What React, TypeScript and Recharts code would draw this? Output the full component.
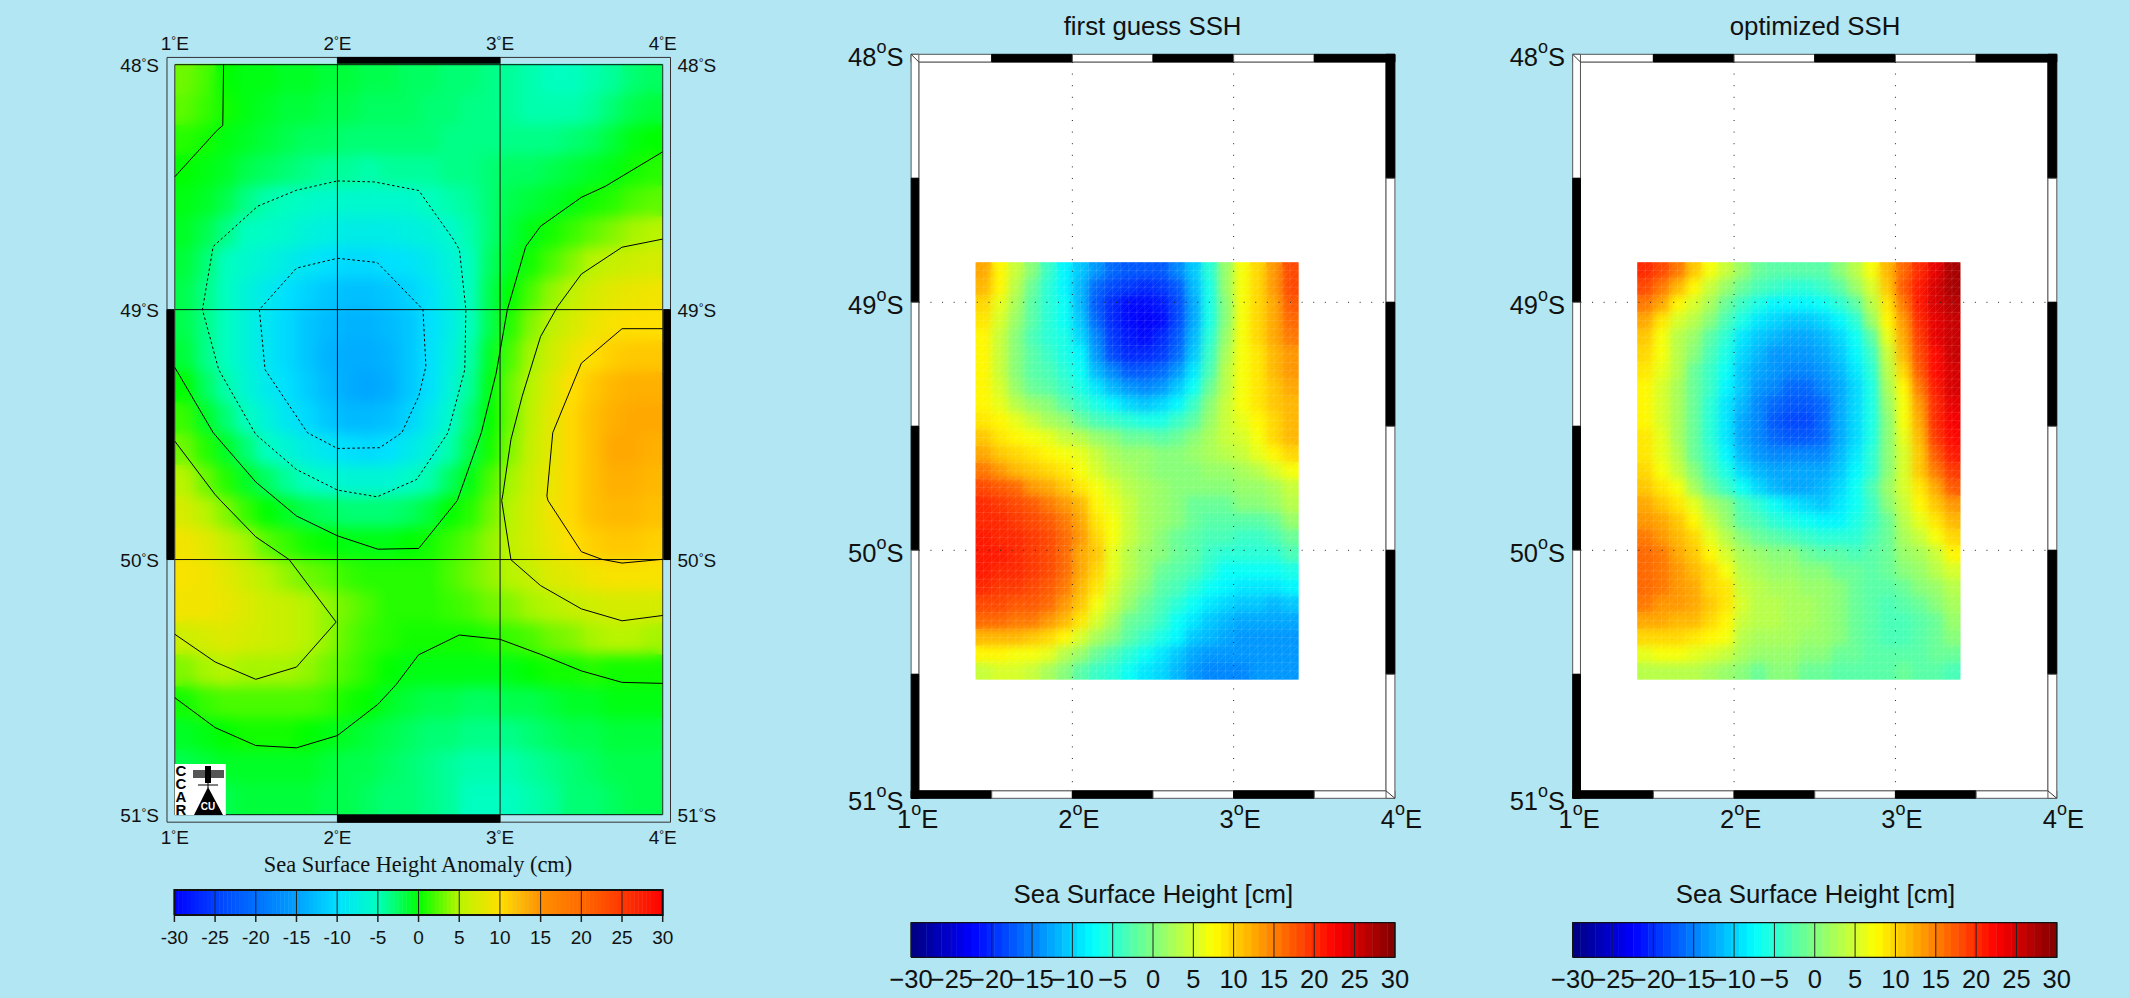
import React from 'react';
import { ScatterChart, Scatter, XAxis, YAxis, ReferenceArea } from 'recharts';

const PAGE_W = 2129, PAGE_H = 998;
const BG = '#B2E6F2';
const SANS = '"Liberation Sans", Arial, sans-serif';
const SERIF = '"Liberation Serif", "Times New Roman", serif';

// ---------- left map (Mercator GMT plot) ----------
const leftLons = [1.0625,1.1875,1.3125,1.4375,1.5625,1.6875,1.8125,1.9375,2.0625,2.1875,2.3125,2.4375,2.5625,2.6875,2.8125,2.9375,3.0625,3.1875,3.3125,3.4375,3.5625,3.6875,3.8125,3.9375];
const leftLats = [48.0625,48.1875,48.3125,48.4375,48.5625,48.6875,48.8125,48.9375,49.0625,49.1875,49.3125,49.4375,49.5625,49.6875,49.8125,49.9375,50.0625,50.1875,50.3125,50.4375,50.5625,50.6875,50.8125,50.9375];
const leftField = [
[3,2,0,-0.5,-0.5,-1,-1,-1.5,-1.5,-2,-2,-2.5,-2.5,-3,-3,-3.5,-4,-4.5,-5,-5,-4.5,-4,-3,-2.5],
[2.5,1.5,0.5,-0.5,-1,-1.5,-1.5,-2,-2,-2.5,-2.5,-2.5,-3,-3,-3.5,-3.5,-4,-4.5,-4.5,-4.5,-4,-3,-2,-1.5],
[1,0.5,-0.5,-1,-1.5,-2,-2.5,-2.5,-3,-3,-3,-3,-3,-3.5,-3.5,-3.5,-3.5,-3.5,-3.5,-3,-2.5,-1.5,-0.5,0],
[0,-0.5,-1,-2,-2.5,-3,-3.5,-4,-4,-4.5,-4,-4,-4,-3.5,-3.5,-3,-2.5,-2.5,-2,-1.5,-1,-0.5,0.5,1],
[-0.5,-1,-2,-3.5,-4.5,-5,-5.5,-6,-6,-6,-6,-6,-5,-4.5,-4,-3,-2,-1.5,-1,-0.5,0.5,1,2,2.5],
[-1,-2,-3.5,-5,-5.5,-6,-7,-7.5,-8,-8,-8,-7.5,-7,-6,-4.5,-3,-1.5,-0.5,0.5,1.5,2.5,3.5,4.5,5],
[-1.5,-3,-5,-6,-7,-8,-9,-10,-10.5,-10.5,-10,-9.5,-8.5,-7,-5,-2.5,-1,0.5,2,3.5,5,6,6.5,7],
[-2,-3.5,-5,-7,-8.5,-10,-11,-12,-12.5,-12.5,-12,-11,-9.5,-7.5,-5,-2,0,2,4,5.5,7,8,8.5,9],
[-2,-3.5,-5,-7,-9,-10.5,-12,-13,-13.5,-13.5,-13,-12,-10,-8,-5,-2,1,3.5,5.5,7,8.5,9.5,10,10],
[-1.5,-3.5,-5,-7,-9,-10.5,-12,-13.5,-14,-14,-13.5,-12,-10,-7.5,-4.5,-1,2,4.5,6.5,8.5,10,11,11.5,11.5],
[0,-2.5,-4.5,-6.5,-8.5,-10,-11.5,-13,-14,-14.5,-14,-12,-10,-7,-4,-0.5,3,5,7.5,10,11.5,12.5,13,13],
[1.5,-1,-3,-5,-7,-9,-10.5,-12,-13,-13,-12.5,-11,-8.5,-6,-3,0,3,5.5,8,10.5,12,13,13.5,13.5],
[3,1,-1,-3,-5,-6.5,-8,-9,-10,-10.5,-10,-8.5,-7,-4.5,-2,0.5,3.5,6,8,10.5,12,13.5,13.5,13],
[5,3,1,-1,-2.5,-4,-5,-6,-6.5,-6.5,-6.5,-5.5,-4.5,-2.5,-0.5,2,4.5,6.5,8.5,10.5,12,13,13,12.5],
[7,5,3.5,1.5,0,-1,-2,-2.5,-3,-3,-3,-2.5,-1.5,0,1,3,5,7,9,10.5,12,12.5,12.5,12],
[9,8,6,4.5,2.5,1.5,0.5,0,-0.5,-0.5,-0.5,0,0.5,1.5,2.5,4,5.5,7,8.5,10,11,11.5,11.5,11],
[9.5,9,8,6.5,5,4,3,2.5,1.5,1,1,1,1,2,3,4,5,6,7.5,8,9,9.5,9.5,9.5],
[9,9,8.5,7.5,6.5,6,5,4,3,2,1,1,1,1.5,2,3,3.5,4.5,5,6,6.5,7,7,7],
[6.5,7,7.5,7,6.5,6,5,4,2.5,1.5,1,0.5,0.5,0.5,0.5,1,1.5,2,3,3.5,4.5,5,5,4.5],
[3.5,4.5,5,4.5,4.5,4.5,4,3,2,1,0,-0.5,-0.5,-0.5,-0.5,-0.5,-0.5,0,0.5,0.5,1,0.5,0.5,0.5],
[0.5,1.5,2,2,2,2,2,1.5,0.5,0,-1,-1.5,-2,-2,-2.5,-2.5,-2,-2,-1.5,-1,-1,-0.5,-0.5,-0.5],
[-1,-0.5,0,0.5,0.5,0.5,0,-0.5,-1,-1.5,-2,-2.5,-3,-3,-3.5,-3.5,-3.5,-3,-2.5,-2,-2,-1.5,-1.5,-1.5],
[-2,-1.5,-1,-1,-1,-1,-1,-1.5,-2,-2,-2.5,-3,-3.5,-4,-4.5,-4.5,-4.5,-4,-3.5,-3,-2.5,-2,-2,-2],
[-2.5,-2,-2,-1.5,-1.5,-1.5,-1.5,-2,-2,-2.5,-3,-3,-3.5,-4,-5,-5,-5,-4.5,-4,-3,-3,-2.5,-2,-2],
];

// contour lines: [lon, lat]
const contourCorner = [[1.30,48.0],[1.295,48.25],[1.26,48.27],[1.0,48.46]];
const contourMinus5 = [[2.0,48.477],[2.226,48.481],[2.5,48.516],[2.715,48.717],[2.75,48.757],[2.79,49.0],[2.783,49.242],[2.68,49.495],[2.487,49.682],[2.244,49.751],[2.0,49.724],[1.748,49.642],[1.498,49.502],[1.27,49.242],[1.17,49.0],[1.236,48.744],[1.51,48.58],[1.748,48.515],[2.0,48.477]];
const contourMinus10 = [[2.0,48.792],[2.244,48.809],[2.51,48.989],[2.526,49.0],[2.544,49.229],[2.5,49.349],[2.396,49.495],[2.26,49.555],[2.0,49.558],[1.816,49.495],[1.555,49.242],[1.52,49.0],[1.748,48.832],[2.0,48.792]];
const contourZeroMid = [[1.0,49.233],[1.236,49.495],[1.498,49.692],[1.748,49.827],[2.0,49.906],[2.249,49.959],[2.5,49.956],[2.737,49.766],[2.885,49.495],[2.976,49.256],[3.045,49.0],[3.158,48.744],[3.249,48.662],[3.5,48.544],[3.647,48.499],[4.0,48.358]];
const contourFiveLeft = [[1.0,49.529],[1.248,49.742],[1.282,49.766],[1.498,49.91],[1.703,50.0],[1.992,50.247],[1.748,50.424],[1.498,50.472],[1.248,50.404],[1.0,50.295]];
const contourFiveRight = [[4.0,48.714],[3.75,48.747],[3.5,48.856],[3.352,48.989],[3.249,49.109],[3.136,49.349],[3.067,49.522],[3.017,49.742],[3.01,49.766],[3.067,50.001],[3.249,50.103],[3.5,50.195],[3.75,50.242],[4.0,50.221]];
const contourTen = [[4.0,49.077],[3.75,49.077],[3.5,49.216],[3.324,49.495],[3.288,49.748],[3.295,49.766],[3.5,49.969],[3.625,49.999],[3.75,50.014],[4.0,49.999]];
const contourZeroBottom = [[1.0,50.544],[1.248,50.661],[1.498,50.731],[1.748,50.74],[2.0,50.692],[2.249,50.57],[2.362,50.492],[2.499,50.376],[2.749,50.298],[3.0,50.315],[3.249,50.374],[3.5,50.439],[3.75,50.484],[4.0,50.488]];

// ---------- SSH panels ----------
const sshLons = [1.45,1.55,1.65,1.75,1.85,1.95,2.05,2.15,2.25,2.35,2.45,2.55,2.65,2.75,2.85,2.95,3.05,3.15,3.25,3.35];
const sshLats = [48.872,48.939,49.007,49.074,49.141,49.208,49.276,49.343,49.41,49.477,49.545,49.612,49.679,49.746,49.814,49.881,49.948,50.015,50.083,50.15,50.217,50.284,50.352,50.419,50.486];
const firstGuess = [
[13,8,4,0,-4,-8,-11,-14,-16,-17,-17,-17,-15,-11,-5,1,7,10,14,18],
[12,8,3,-1,-5,-8,-12,-16,-18,-19,-20,-19,-17,-12,-6,1,7,10,14,18],
[10,6,2,-2,-5,-7,-12,-17,-20,-22,-22,-21,-18,-13,-6,0,7,10,13,17],
[9,5,1,-2,-5,-7,-11,-16,-20,-22,-23,-22,-18,-13,-6,0,7,10,13,16],
[8,4,0,-3,-5,-6,-10,-15,-19,-21,-22,-20,-17,-12,-5,1,7,10,13,15],
[8,4,0,-2,-4,-6,-8,-14,-18,-20,-20,-19,-16,-11,-4,2,7,9,12,14],
[8,4,0,-2,-3,-5,-7,-12,-15,-17,-17,-16,-14,-9,-3,3,7,9,12,14],
[8,5,1,-1,-2,-4,-6,-9,-12,-14,-15,-14,-11,-7,-1,3,7,9,11,13],
[8,6,3,1,0,-2,-4,-6,-8,-10,-11,-10,-8,-4,0,4,7,9,11,12],
[9,8,6,4,2,1,-1,-3,-4,-5,-6,-6,-4,-2,1,4,6,8,10,12],
[11,9,8,7,6,4,3,1,0,-1,-1,-2,-1,0,2,4,5,7,10,12],
[13,11,10,9,8,7,6,4,2,1,1,0,0,1,2,3,4,6,8,10],
[15,14,12,11,10,9,7,5,3,2,1,0,0,0,1,1,2,3,5,7],
[18,17,16,14,13,11,9,7,5,3,2,1,0,0,0,0,1,1,2,4],
[20,19,18,17,15,14,12,8,6,4,2,1,0,-1,-1,-1,0,0,1,3],
[20,20,19,18,17,15,13,9,7,4,2,1,0,-1,-2,-2,-2,-2,-1,1],
[21,20,20,19,18,16,14,10,7,4,2,0,-1,-2,-3,-3,-4,-4,-3,-1],
[21,21,20,19,18,16,13,11,6,3,1,0,-1,-2,-4,-5,-5,-5,-5,-3],
[21,20,20,19,18,16,13,10,6,3,1,-1,-2,-3,-5,-7,-7,-7,-7,-6],
[20,19,19,18,17,15,12,9,5,2,0,-2,-3,-5,-7,-8,-9,-9,-9,-8],
[18,18,17,17,16,14,11,7,4,1,-1,-3,-5,-7,-9,-10,-11,-11,-12,-11],
[16,16,15,15,14,12,9,5,2,-1,-2,-4,-7,-9,-11,-12,-13,-13,-13,-13],
[12,12,12,11,10,8,5,2,0,-2,-4,-6,-8,-11,-12,-13,-14,-14,-13.5,-13.5],
[8,8,7,7,6,3,1,-1,-3,-5,-7,-9,-11,-13,-14,-14,-14,-14,-14,-14],
[4,5,5,4,2,0,-2,-4,-5,-7,-9,-10,-12,-14,-14.5,-15,-14.5,-14,-14,-14],
];
const optimized = [
[20,18,15,11,7,4,1,-1,-2,-2.5,-2.5,-2,0,3,7,12,16,20,24,28],
[18,15,12,8,4,1,-1,-3,-4,-5,-5,-4,-2,1,5,11,17,21,25,28],
[15,13,8,5,2,-1,-4,-6,-8,-8,-8,-7,-5,-2,3,9,15,21,25,27],
[13,9,5,3,0,-3,-6,-9,-10,-11,-11,-10,-8,-5,1,8,14,20,24,26],
[11,7,3,1,-2,-5,-9,-11,-12,-13,-13,-12,-10,-7,-2,6,13,19,24,26],
[10,7,3,0,-3,-6,-10,-12,-14,-14,-14,-13,-11,-8,-4,4,12,18,22,26],
[9,6,3,-1,-4,-7,-11,-13,-14,-15,-15,-14,-12,-9,-5,3,10,17,22,25],
[8,5,2,-1,-4,-8,-11,-14,-15,-16,-16,-15,-13,-10,-6,2,8,15,21,25],
[8,5,2,-1,-5,-9,-12,-15,-16,-17,-17,-16,-13,-10,-6,1,7,14,20,24],
[8,5,2,-1,-5,-9,-13,-15,-17,-18,-18,-16,-13,-10,-6,0,7,13,20,23],
[9,6,2,-1,-5,-9,-13,-15,-16,-17,-17,-16,-13,-10,-6,0,6,12,19,22],
[9,6,3,-1,-4,-8,-12,-14,-15,-15,-15,-15,-12,-9,-5,0,5,11,17,21],
[10,7,4,0,-3,-6,-10,-12,-13,-13,-13,-13,-11,-8,-5,0,5,11,15,19],
[11,9,7,2,-1,-4,-7,-10,-12,-13,-13,-12,-10,-7,-3,1,5,9,13,17],
[13,11,9,6,2,0,-3,-5,-7,-9,-10,-11,-9,-7,-4,0,4,8,11,14],
[14,13,11,8,4,1,-2,-3,-5,-6,-7,-8,-8,-6,-4,-1,3,6,9,12],
[15,14,12,10,6,3,0,-1,-2,-3,-4,-5,-5,-5,-3,-1,2,4,7,10],
[16,15,13,11,8,5,2,1,0,0,-1,-2,-2,-3,-2,-1,1,2,4,8],
[16,15,14,12,10,7,3,2,1,1,0,0,-1,-1,-2,-1,0,1,3,5],
[16,15,14,13,10,9,4,3,2,2,1,1,0,-1,-2,-2,-1,0,1,3],
[15,14,14,13,11,9,5,3,3,2,2,1,0,-1,-2,-3,-2,-1,0,2],
[13,13,12,12,10,8,4,3,3,2,2,1,0,-1,-2,-3,-3,-2,-1,1],
[10,10,10,9,8,7,3,2,2,2,1,1,0,-1,-2,-3,-3,-2,-1,0],
[6,7,7,6,5,4,2,1,1,1,0,0,-1,-1,-2,-2,-2,-2,-1,-1],
[3,3,3,3,2,1,0,-1,0,0,-1,-1,-2,-2,-2,-2,-1,-2,-2,-3],
];

// ---------- axes ----------
const lonTicks = [1, 2, 3, 4];
const latTicks = [48, 49, 50, 51];
const cbTicks = [-30, -25, -20, -15, -10, -5, 0, 5, 10, 15, 20, 25, 30];

// left colour table
const leftCptValues = [-30,-25,-20,-15,-10,-5,0,5,10,15,20,25,30];
const leftCptColors = [[0,0,255],[0,64,255],[0,112,255],[0,160,255],[0,224,255],[0,255,192],[0,255,0],[184,244,0],[255,224,0],[255,144,0],[255,106,0],[255,56,0],[255,0,0]];

const leftColor = (v: number) => {
  const t = Math.max(-30, Math.min(30, v));
  let i = 0;
  while (i < leftCptValues.length - 2 && t > leftCptValues[i + 1]) i++;
  const f = (t - leftCptValues[i]) / (leftCptValues[i + 1] - leftCptValues[i]);
  const a = leftCptColors[i], b = leftCptColors[i + 1];
  return `rgb(${a.map((c, k) => Math.round(c + (b[k] - c) * f)).join(',')})`;
};
const jet = (v: number) => {
  const lvl = Math.max(0, Math.min(63, Math.floor(((v + 30) / 60) * 64)));
  const g = (lvl + 0.5) / 64;
  const ch = (c: number) => Math.round(255 * Math.max(0, Math.min(1, 1.5 - Math.abs(4 * g - c))));
  return `rgb(${ch(3)},${ch(2)},${ch(1)})`;
};

const merc = (lat: number) => Math.log(Math.tan(Math.PI / 4 + (lat * Math.PI) / 360));

const gridTable = (lons: number[], lats: number[], rows: number[][], ty: (a: number) => number) =>
  lats.flatMap((la, r) => lons.map((lo, c) => ({ x: lo, y: ty(la), v: rows[r][c] })));
const lineTable = (pts: number[][], ty: (a: number) => number) => pts.map(([a, b]) => ({ x: a, y: ty(b) }));
const same = (a: number) => a;

const charts: React.CSSProperties = { position: 'absolute', left: 0, top: 0 };
const noDot = () => null;
const AX = 20;

const polyline = (key: string, data: any[], stroke = '#000', dash?: string, width = 1) => (
  <Scatter key={key} data={data} isAnimationActive={false} legendType="none" shape={noDot as any}
    line={{ stroke, strokeWidth: width, strokeDasharray: dash, fill: 'none' }} lineType="joint" fill="none" />
);

const cellShape = (w: number, h: number, color: (v: number) => string) => (p: any) => (
  <rect x={p.cx - w / 2} y={p.cy - h / 2} width={w + 0.4} height={h + 0.4} fill={color(p.payload.v)} />
);
const meshShape = (w: number, h: number) => (p: any) => {
  const x = p.cx - w / 2, y = p.cy - h / 2;
  return (
    <path d={`M${x} ${y}H${x + w}M${x} ${y + h / 2}H${x + w}M${x} ${y}V${y + h}M${x + w / 2} ${y}V${y + h}M${x} ${y + h / 2}L${x + w / 2} ${y}M${x} ${y + h}L${x + w} ${y}M${x + w / 2} ${y + h}L${x + w} ${y + h / 2}`}
      stroke="#fff" strokeOpacity={0.14} strokeWidth={0.7} fill="none" />
  );
};

const frameBox = (k: string, x1: number, x2: number, y1: number, y2: number, fill: string, stroke = '#333', sw = 1) => (
  <ReferenceArea key={k} x1={x1} x2={x2} y1={y1} y2={y2} fill={fill} fillOpacity={1} stroke={stroke} strokeWidth={sw} strokeOpacity={1} ifOverflow="visible" />
);

// ---------- left panel ----------
function LeftMap() {
  const L = 174.8, R = 662.7, T = 64.7, B = 814.7;
  const field = gridTable(leftLons, leftLats, leftField, merc);
  const oL = 0.952, oR = 4.048, oT = merc(47.97), oB = merc(51.029);
  const band = [
    frameBox('o', oL, oR, oT, oB, 'none'),
    frameBox('tb', 2, 3, oT, merc(48), '#000', '#000'),
    frameBox('bb', 2, 3, merc(51), oB, '#000', '#000'),
    frameBox('lb', oL, 1, merc(49), merc(50), '#000', '#000'),
    frameBox('rb', 4, oR, merc(49), merc(50), '#000', '#000'),
  ];
  const lonTick = (dy: number) => (p: any) => (
    <text x={p.x} y={dy} textAnchor="middle" fontFamily={SANS} fontSize={19} fill="#111">
      {p.payload.value}<tspan fontSize={12} dy={-5}>°</tspan><tspan dy={5}>E</tspan>
    </text>
  );
  const latTick = (x: number, anchor: string) => (p: any) => (
    <text x={x} y={p.y + 7} textAnchor={anchor as any} fontFamily={SANS} fontSize={19} fill="#111">
      {latTicks[p.index]}<tspan fontSize={12} dy={-5}>°</tspan><tspan dy={5}>S</tspan>
    </text>
  );
  return (
    <ScatterChart width={PAGE_W} height={PAGE_H} style={charts}
      margin={{ left: L - AX, right: PAGE_W - R - AX, top: T - AX, bottom: PAGE_H - B - AX }}>
      <XAxis xAxisId={0} type="number" dataKey="x" domain={[1, 4]} ticks={lonTicks} height={AX} axisLine={false} tickLine={false} tick={lonTick(844) as any} interval={0} />
      <XAxis xAxisId="top" orientation="top" type="number" dataKey="x" domain={[1, 4]} ticks={lonTicks} height={AX} axisLine={false} tickLine={false} tick={lonTick(50) as any} interval={0} />
      <YAxis yAxisId={0} type="number" dataKey="y" reversed domain={[merc(48), merc(51)]} ticks={latTicks.map(merc)} width={AX} axisLine={false} tickLine={false} tick={latTick(159, 'end') as any} interval={0} />
      <YAxis yAxisId="right" orientation="right" type="number" dataKey="y" reversed domain={[merc(48), merc(51)]} ticks={latTicks.map(merc)} width={AX} axisLine={false} tickLine={false} tick={latTick(677.5, 'start') as any} interval={0} />
      <Scatter xAxisId="top" yAxisId="right" data={lineTable([[1, 48], [4, 51]], merc)} isAnimationActive={false} legendType="none" shape={noDot as any} />
      <Scatter data={field} isAnimationActive={false} legendType="none" shape={cellShape(20.33, 32, leftColor) as any} />
      <Scatter className="soft-left" data={field} isAnimationActive={false} legendType="none" shape={cellShape(20.33, 32, leftColor) as any} />
      {polyline('g2', lineTable([[2, 48], [2, 51]], merc), '#111')}
      {polyline('g3', lineTable([[3, 48], [3, 51]], merc), '#111')}
      {polyline('g49', lineTable([[1, 49], [4, 49]], merc), '#111')}
      {polyline('g50', lineTable([[1, 50], [4, 50]], merc), '#111')}
      {polyline('gt', lineTable([[1, 48], [4, 48]], merc), '#111')}
      {polyline('gb', lineTable([[1, 51], [4, 51]], merc), '#111')}
      {polyline('gl', lineTable([[1, 48], [1, 51]], merc), '#333')}
      {polyline('gr', lineTable([[4, 48], [4, 51]], merc), '#333')}
      {polyline('c1', lineTable(contourCorner, merc))}
      {polyline('c2', lineTable(contourMinus5, merc), '#000', '2.5 2.5')}
      {polyline('c3', lineTable(contourMinus10, merc), '#000', '2.5 2.5')}
      {polyline('c4', lineTable(contourZeroMid, merc))}
      {polyline('c5', lineTable(contourFiveLeft, merc))}
      {polyline('c6', lineTable(contourFiveRight, merc))}
      {polyline('c7', lineTable(contourTen, merc))}
      {polyline('c8', lineTable(contourZeroBottom, merc))}
      {band}
    </ScatterChart>
  );
}

// ---------- colour bars ----------
function ColorBar({ L, R, T, B, colors, levels, cellW, tick, dividers, tickLen, edge }: any) {
  const data = levels.map((v: number) => ({ x: v, y: 0.5, v }));
  return (
    <ScatterChart width={PAGE_W} height={PAGE_H} style={charts} margin={{ left: L, right: PAGE_W - R, top: T, bottom: PAGE_H - B - AX }}>
      <XAxis type="number" dataKey="x" domain={[-30, 30]} ticks={cbTicks} height={AX} interval={0} axisLine={false}
        tickLine={tickLen ? { stroke: '#222', strokeWidth: 1.5 } : false} tickSize={tickLen || 0} tick={tick} />
      <YAxis type="number" dataKey="y" domain={[0, 1]} hide />
      <Scatter data={data} isAnimationActive={false} legendType="none" shape={cellShape(cellW, B - T, colors) as any} />
      {cbTicks.map((v) => polyline('dv' + v, [{ x: v, y: 0 }, { x: v, y: 1 }], dividers, undefined, 1))}
      {polyline('edge', [{ x: -30, y: 0 }, { x: 30, y: 0 }, { x: 30, y: 1 }, { x: -30, y: 1 }, { x: -30, y: 0 }], '#111', undefined, edge)}
    </ScatterChart>
  );
}

const leftBarLevels = Array.from({ length: 120 }, (_, i) => -29.75 + i * 0.5);
const sshBarLevels = Array.from({ length: 64 }, (_, i) => -30 + ((i + 0.5) * 60) / 64);

const leftBarTick = (p: any) => (
  <text x={p.x} y={944} textAnchor="middle" fontFamily={SANS} fontSize={19} fill="#111">{p.payload.value}</text>
);
const sshBarTick = (p: any) => (
  <text x={p.x} y={987.5} textAnchor="middle" fontFamily={SANS} fontSize={25.5} fill="#111">{String(p.payload.value).replace('-', '\u2212')}</text>
);

// ---------- SSH panel ----------
function SshMap({ L, R, rows }: { L: number; R: number; rows: number[][] }) {
  const T = 54.3, B = 798.3;
  const data = gridTable(sshLons, sshLats, rows, same);
  const pxLon = (R - L) / 3, pxLat = (B - T) / 3;
  const cw = pxLon * 0.1, ch = pxLat * 0.06724;
  const iL = 1.048, iR = 3.945, iT = 48.031, iB = 50.97;
  const half = [1, 1.5, 2, 2.5, 3, 3.5];
  const halfLat = [48, 48.5, 49, 49.5, 50, 50.5];
  const lonTick = (p: any) => (
    <text x={p.x + 6.5} y={828.3} textAnchor="middle" fontFamily={SANS} fontSize={25.5} fill="#111">
      {p.payload.value}<tspan fontSize={18} dy={-13}>o</tspan><tspan dy={13}>E</tspan>
    </text>
  );
  const latTick = (p: any) => (
    <text x={L - 7.6} y={p.y + 12} textAnchor="end" fontFamily={SANS} fontSize={25.5} fill="#111">
      {p.payload.value}<tspan fontSize={18} dy={-13}>o</tspan><tspan dy={13}>S</tspan>
    </text>
  );
  return (
    <ScatterChart width={PAGE_W} height={PAGE_H} style={charts}
      margin={{ left: L - AX, right: PAGE_W - R, top: T, bottom: PAGE_H - B - AX }}>
      <XAxis type="number" dataKey="x" domain={[1, 4]} ticks={lonTicks} height={AX} axisLine={false} tickLine={false} tick={lonTick as any} interval={0} />
      <YAxis type="number" dataKey="y" reversed domain={[48, 51]} ticks={latTicks} width={AX} axisLine={false} tickLine={false} tick={latTick as any} interval={0} />
      {frameBox('in', iL, iR, iT, iB, '#fff', '#666')}
      {half.map((v, i) => frameBox('t' + v, v, v + 0.5, 48, iT, i % 2 ? '#000' : '#fff', i % 2 ? '#000' : '#555'))}
      {half.map((v, i) => frameBox('b' + v, v, v + 0.5, iB, 51, i % 2 ? '#fff' : '#000', i % 2 ? '#555' : '#000'))}
      {halfLat.map((v, i) => frameBox('l' + v, 1, iL, v, v + 0.5, i % 2 ? '#000' : '#fff', i % 2 ? '#000' : '#555'))}
      {halfLat.map((v, i) => frameBox('r' + v, iR, 4, v, v + 0.5, i % 2 ? '#fff' : '#000', i % 2 ? '#555' : '#000'))}
      <Scatter data={data} isAnimationActive={false} legendType="none" shape={cellShape(cw, ch, jet) as any} />
      <Scatter className="soft-ssh" data={data} isAnimationActive={false} legendType="none" shape={cellShape(cw, ch, jet) as any} />
      <Scatter data={data} isAnimationActive={false} legendType="none" shape={meshShape(cw, ch) as any} />
      {polyline('d2', lineTable([[2, iT], [2, iB]], same), '#222', '1 10.6')}
      {polyline('d3', lineTable([[3, iT], [3, iB]], same), '#222', '1 10.6')}
      {polyline('d49', lineTable([[iL, 49], [iR, 49]], same), '#222', '1 10.6')}
      {polyline('d50', lineTable([[iL, 50], [iR, 50]], same), '#222', '1 10.6')}
      {polyline('k1', lineTable([[1, 48], [iL, iT]], same), '#333')}
      {polyline('k2', lineTable([[4, 51], [iR, iB]], same), '#333')}
    </ScatterChart>
  );
}

function Overlay() {
  return (
    <svg width={PAGE_W} height={PAGE_H} style={charts}>
      <text x={418} y={871.7} textAnchor="middle" fontFamily={SERIF} fontSize={22.4} fill="#111">Sea Surface Height Anomaly (cm)</text>
      <text x={1152.6} y={35} textAnchor="middle" fontFamily={SANS} fontSize={25.8} fill="#111">first guess SSH</text>
      <text x={1815} y={35} textAnchor="middle" fontFamily={SANS} fontSize={25.8} fill="#111">optimized SSH</text>
      <text x={1153.4} y={903.3} textAnchor="middle" fontFamily={SANS} fontSize={25.8} fill="#111">Sea Surface Height [cm]</text>
      <text x={1815.5} y={903.3} textAnchor="middle" fontFamily={SANS} fontSize={25.8} fill="#111">Sea Surface Height [cm]</text>
      <g>
        <rect x={174.8} y={764} width={51} height={51} fill="#fff" />
        <text x={175.5} y={776} fontFamily={SANS} fontWeight="bold" fontSize={15} fill="#000">C</text>
        <text x={175.5} y={789} fontFamily={SANS} fontWeight="bold" fontSize={15} fill="#000">C</text>
        <text x={175.5} y={802} fontFamily={SANS} fontWeight="bold" fontSize={15} fill="#000">A</text>
        <text x={175.5} y={815} fontFamily={SANS} fontWeight="bold" fontSize={15} fill="#000">R</text>
        <rect x={193} y={770} width={31} height={8} fill="#555" />
        <rect x={205} y={766} width={6} height={17} fill="#000" />
        <path d="M198 785H218M208 783V788" stroke="#000" strokeWidth={1} />
        <polygon points="208,787 223,815 194,815" fill="#000" />
        <text x={208} y={810} textAnchor="middle" fontFamily={SANS} fontWeight="bold" fontSize={10} fill="#fff">CU</text>
      </g>
    </svg>
  );
}

export default function App() {
  return (
    <div style={{ position: 'absolute', left: 0, top: 0, width: PAGE_W, height: PAGE_H, background: BG, overflow: 'hidden' }}>
      <style>{`.soft-left{filter:blur(7px);clip-path:inset(0)}.soft-ssh{filter:blur(4px);clip-path:inset(0)}`}</style>
      <LeftMap />
      <ColorBar L={174.4} R={662.7} T={890} B={915} colors={leftColor} levels={leftBarLevels} cellW={4.07} tick={leftBarTick} dividers="#222" tickLen={7} edge={2} />
      <SshMap L={911.1} R={1394.9} rows={firstGuess} />
      <ColorBar L={911.1} R={1394.9} T={922.7} B={957.3} colors={jet} levels={sshBarLevels} cellW={7.56} tick={sshBarTick} dividers="#222" edge={1.2} />
      <SshMap L={1572.7} R={2056.8} rows={optimized} />
      <ColorBar L={1572.7} R={2056.8} T={922.7} B={957.3} colors={jet} levels={sshBarLevels} cellW={7.56} tick={sshBarTick} dividers="#222" edge={1.2} />
      <Overlay />
    </div>
  );
}
